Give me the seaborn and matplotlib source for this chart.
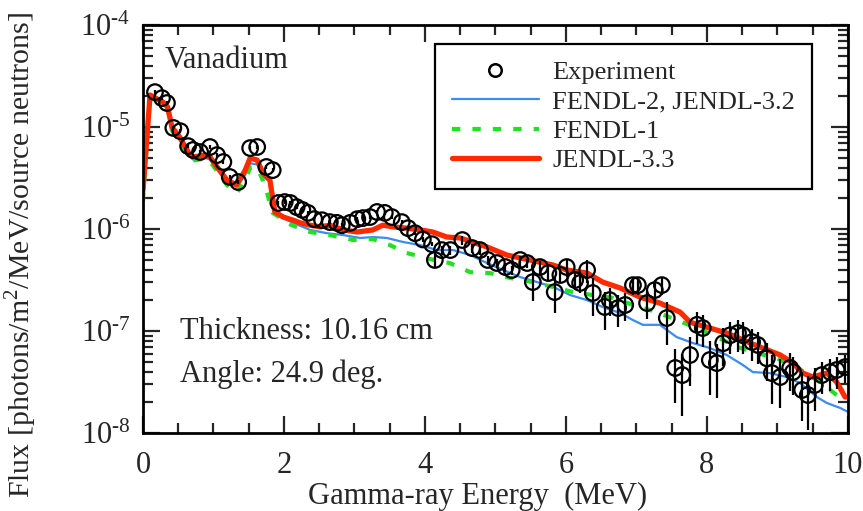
import numpy as np
import matplotlib
matplotlib.use("Agg")
import matplotlib.pyplot as plt
import seaborn as sns
from matplotlib.lines import Line2D
from matplotlib.ticker import LogLocator, MultipleLocator, FuncFormatter

# experiment (energy in MeV, flux, relative error)
exp_e = [0.17, 0.27, 0.34, 0.43, 0.53, 0.64, 0.71, 0.81, 0.95, 1.05, 1.14, 1.23, 1.35,
         1.52, 1.62, 1.75, 1.84, 1.92, 2.01, 2.09, 2.18, 2.26, 2.34, 2.43, 2.54, 2.65,
         2.75, 2.82, 2.94, 3.04, 3.12, 3.22, 3.32, 3.43, 3.53, 3.67, 3.76, 3.86, 3.97,
         4.10, 4.14, 4.24, 4.36, 4.53, 4.67, 4.78, 4.89, 5.02, 5.14, 5.23, 5.35, 5.45,
         5.53, 5.63, 5.75, 5.84, 5.92, 6.01, 6.13, 6.20, 6.30, 6.38, 6.55, 6.62, 6.74,
         6.84, 6.95, 7.02, 7.15, 7.26, 7.36, 7.43, 7.55, 7.65, 7.76, 7.86, 7.94, 8.04,
         8.14, 8.23, 8.33, 8.44, 8.51, 8.64, 8.72, 8.85, 8.92, 9.04, 9.18, 9.22, 9.35,
         9.43, 9.53, 9.63, 9.75, 9.84, 9.96]
exp_flux = [2.20e-5, 1.92e-5, 1.72e-5, 9.8e-6, 9.1e-6, 6.5e-6, 5.96e-6, 5.69e-6, 6.37e-6,
            5.31e-6, 4.54e-6, 3.24e-6, 2.89e-6, 6.22e-6, 6.37e-6, 4.06e-6, 3.78e-6,
            1.80e-6, 1.84e-6, 1.80e-6, 1.64e-6, 1.54e-6, 1.44e-6, 1.25e-6, 1.22e-6,
            1.17e-6, 1.15e-6, 1.09e-6, 1.15e-6, 1.25e-6, 1.28e-6, 1.31e-6, 1.47e-6,
            1.44e-6, 1.31e-6, 1.17e-6, 1.02e-6, 9.1e-7, 7.9e-7, 7.1e-7, 4.97e-7, 6.22e-7,
            6.22e-7, 7.8e-7, 6.5e-7, 6.22e-7, 4.97e-7, 4.64e-7, 4.24e-7, 3.96e-7, 4.97e-7,
            4.64e-7, 3.02e-7, 4.24e-7, 3.70e-7, 2.41e-7, 3.54e-7, 4.24e-7, 3.16e-7,
            2.96e-7, 3.96e-7, 2.36e-7, 1.72e-7, 2.01e-7, 1.68e-7, 1.80e-7, 2.82e-7,
            2.82e-7, 1.88e-7, 2.52e-7, 2.82e-7, 1.34e-7, 4.34e-8, 3.70e-8, 5.82e-8,
            1.15e-7, 1.07e-7, 5.2e-8, 4.85e-8, 7.6e-8, 9.1e-8, 9.55e-8, 9.1e-8, 7.8e-8,
            7.3e-8, 5.4e-8, 3.87e-8, 3.54e-8, 4.34e-8, 3.96e-8, 2.64e-8, 2.36e-8, 2.96e-8,
            3.70e-8, 3.96e-8, 4.15e-8, 4.43e-8]
exp_rel = [0.05] * 40 + [0.15, 0.1, 0.1, 0.1, 0.1, 0.1, 0.1, 0.1, 0.1, 0.1, 0.1, 0.1,
           0.35, 0.15, 0.15, 0.38, 0.15, 0.2, 0.2, 0.2, 0.25, 0.4, 0.4, 0.3, 0.35, 0.3,
           0.2, 0.2, 0.3, 0.25, 0.2, 0.45, 0.55, 0.6, 0.5, 0.35, 0.35, 0.55, 0.55, 0.4,
           0.35, 0.35, 0.35, 0.35, 0.35, 0.4, 0.5, 0.5, 0.4, 0.4, 0.5, 0.55, 0.45, 0.35,
           0.35, 0.35, 0.3]

# JENDL-3.3
j33_e = [0.0, 0.10, 0.28, 0.35, 0.41, 0.52, 0.64, 0.71, 0.88, 0.95, 1.05, 1.19, 1.33,
         1.45, 1.52, 1.62, 1.70, 1.80, 1.87, 1.99, 2.13, 2.23, 2.37, 2.51, 2.65, 2.84,
         3.04, 3.26, 3.40, 3.55, 3.74, 3.93, 4.11, 4.31, 4.50, 4.88, 5.16, 5.49, 5.82,
         6.01, 6.30, 6.52, 6.77, 7.05, 7.33, 7.62, 7.76, 8.04, 8.28, 8.51, 8.75, 9.04,
         9.22, 9.36, 9.50, 9.70, 9.84, 9.96]
j33_flux = [2.4e-6, 2.06e-5, 1.76e-5, 1.57e-5, 1.0e-5, 7.97e-6, 5.69e-6, 5.08e-6, 5.31e-6,
            5.08e-6, 4.06e-6, 3.02e-6, 2.70e-6, 3.78e-6, 4.97e-6, 4.74e-6, 3.54e-6,
            3.02e-6, 1.47e-6, 1.31e-6, 1.22e-6, 1.15e-6, 1.09e-6, 1.05e-6, 1.09e-6,
            9.8e-7, 9.35e-7, 9.8e-7, 1.09e-6, 1.05e-6, 1.02e-6, 9.8e-7, 9.35e-7, 8.35e-7,
            8.17e-7, 6.67e-7, 5.56e-7, 4.97e-7, 4.43e-7, 3.96e-7, 3.70e-7, 3.02e-7,
            2.64e-7, 2.15e-7, 1.88e-7, 1.53e-7, 1.22e-7, 1.07e-7, 9.55e-8, 8.17e-8,
            6.97e-8, 5.82e-8, 4.85e-8, 3.87e-8, 3.54e-8, 3.87e-8, 3.16e-8, 2.25e-8]

# FENDL-2, JENDL-3.2
f2_e = [0.0, 0.10, 0.28, 0.35, 0.41, 0.52, 0.64, 0.71, 0.88, 0.95, 1.05, 1.19, 1.33,
        1.45, 1.52, 1.62, 1.70, 1.80, 1.87, 2.13, 2.37, 2.61, 2.84, 3.08, 3.26, 3.46,
        3.69, 3.93, 4.17, 4.40, 4.64, 4.88, 5.11, 5.35, 5.59, 5.82, 6.06, 6.30, 6.52,
        6.77, 6.95, 7.09, 7.33, 7.57, 7.80, 8.04, 8.28, 8.51, 8.65, 8.89, 9.13, 9.32,
        9.56, 9.70, 9.89, 10.0]
f2_flux = [2.2e-6, 2.0e-5, 1.7e-5, 1.5e-5, 9.5e-6, 7.5e-6, 5.3e-6, 4.8e-6, 5.0e-6, 4.8e-6,
           3.9e-6, 2.9e-6, 2.6e-6, 3.4e-6, 4.4e-6, 4.3e-6, 3.3e-6, 2.9e-6, 1.4e-6,
           1.15e-6, 9.8e-7, 9.1e-7, 8.73e-7, 8.17e-7, 8.35e-7, 8.17e-7, 7.46e-7, 6.97e-7,
           6.22e-7, 6.22e-7, 5.56e-7, 4.64e-7, 3.96e-7, 3.38e-7, 3.02e-7, 2.70e-7,
           2.25e-7, 2.01e-7, 1.72e-7, 1.50e-7, 1.28e-7, 1.15e-7, 1.15e-7, 8.73e-8,
           7.62e-8, 6.81e-8, 5.82e-8, 4.64e-8, 3.96e-8, 3.87e-8, 3.54e-8, 3.09e-8,
           2.25e-8, 1.97e-8, 1.76e-8, 1.61e-8]

# FENDL-1
f1_e = [0.0, 0.10, 0.28, 0.35, 0.41, 0.52, 0.64, 0.71, 0.88, 0.95, 1.05, 1.19, 1.33,
        1.45, 1.52, 1.62, 1.70, 1.76, 1.84, 2.10, 2.37, 2.65, 2.98, 3.26, 3.50, 3.74,
        4.07, 4.35, 4.64, 4.92, 5.21, 5.53, 5.82, 6.10, 6.38, 6.67, 6.95, 7.29, 7.57,
        7.86, 8.14, 8.43, 8.71, 8.99, 9.28, 9.56, 9.84, 9.96]
f1_flux = [1.9e-6, 1.95e-5, 1.7e-5, 1.5e-5, 9.3e-6, 7.3e-6, 5.2e-6, 4.7e-6, 4.9e-6, 4.6e-6,
           3.7e-6, 2.7e-6, 2.25e-6, 3.0e-6, 4.0e-6, 4.0e-6, 3.0e-6, 2.25e-6, 1.44e-6,
           1.1e-6, 9.35e-7, 8.73e-7, 7.8e-7, 7.97e-7, 6.97e-7, 5.82e-7, 5.08e-7, 4.64e-7,
           3.78e-7, 3.70e-7, 3.31e-7, 3.02e-7, 2.70e-7, 2.41e-7, 2.25e-7, 2.11e-7,
           1.80e-7, 1.53e-7, 1.28e-7, 1.07e-7, 8.73e-8, 6.97e-8, 6.08e-8, 5.43e-8,
           4.34e-8, 3.31e-8, 2.36e-8, 2.11e-8]

sns.set_style("ticks")
plt.rcParams['font.family'] = ['Liberation Serif', 'DejaVu Serif']
plt.rcParams['mathtext.fontset'] = 'custom'
plt.rcParams['mathtext.rm'] = 'Liberation Serif'

fig = plt.figure(figsize=(8.63, 5.11), dpi=100)
ax = fig.add_axes([0.1657, 0.1526, 0.8169, 0.7984])

blue, green, red = "#3b8bf5", "#22e022", "#ff2a00"

sns.lineplot(x=f2_e, y=f2_flux, ax=ax, color=blue, lw=1.6, estimator=None, sort=False)
l_f1 = sns.lineplot(x=f1_e, y=f1_flux, ax=ax, color=green, lw=3.0, estimator=None,
                    sort=False).lines[-1]
l_f1.set_dashes((2, 2.9))
sns.lineplot(x=j33_e, y=j33_flux, ax=ax, color=red, lw=3.8, estimator=None, sort=False)

exp_flux_a = np.array(exp_flux)
err = exp_flux_a * np.array(exp_rel)
ax.errorbar(exp_e, exp_flux_a, yerr=err, fmt='none', ecolor='black', elinewidth=1.6,
            capsize=0, zorder=4)
sns.scatterplot(x=exp_e, y=exp_flux, ax=ax, marker='o', s=125, facecolors='none',
                edgecolor='black', linewidth=1.6, zorder=5)

ax.set_yscale('log')
ax.set_xlim(0, 10)
ax.set_ylim(1e-8, 1e-4)
ax.xaxis.set_major_locator(MultipleLocator(2))
ax.xaxis.set_minor_locator(MultipleLocator(0.5))
ax.yaxis.set_major_locator(LogLocator(base=10, numticks=10))
ax.yaxis.set_minor_locator(LogLocator(base=10, subs=np.arange(2, 10), numticks=10))
ax.yaxis.set_major_formatter(FuncFormatter(
    lambda v, p: r'$\mathregular{10^{\text{-}%d}}$' % round(-np.log10(v))))
ax.tick_params(which='both', direction='in', top=True, right=True, width=1.6,
               labelsize=22, pad=9)
ax.tick_params(axis='x', pad=13)
ax.tick_params(which='major', length=12)
ax.tick_params(which='minor', length=7)
for s in ax.spines.values():
    s.set_linewidth(2)
    s.set_color('black')

ax.set_xlabel("Gamma-ray Energy  (MeV)", fontsize=22)
ax.xaxis.set_label_coords(0.475, -0.12)
ax.set_ylabel("Flux [photons/m$^\\mathregular{2}$/MeV/source neutrons]", fontsize=21.5)
ax.yaxis.set_label_coords(-0.147, 0.436)

ax.text(0.03, 0.912, "Vanadium", transform=ax.transAxes, fontsize=22, va='center')
ax.text(0.052, 0.25, "Thickness: 10.16 cm", transform=ax.transAxes, fontsize=22,
        va='center')
ax.text(0.052, 0.145, "Angle: 24.9 deg.", transform=ax.transAxes, fontsize=22,
        va='center')

handles = [
    Line2D([], [], ls='none', marker='o', mfc='none', mec='black', mew=1.8, ms=9),
    Line2D([], [], color=blue, lw=1.6),
    Line2D([], [], color=green, lw=3.0, dashes=(2, 2.9)),
    Line2D([], [], color=red, lw=3.8),
]
labels = ["Experiment", "FENDL-2, JENDL-3.2", "FENDL-1", "JENDL-3.3"]
leg = ax.legend(handles, labels, loc='upper right', bbox_to_anchor=(0.949, 0.953),
                borderaxespad=0, fontsize=19, frameon=True, fancybox=False,
                edgecolor='black', framealpha=1, handlelength=3.3, labelspacing=0.25,
                borderpad=0.65, handletextpad=0.5, handleheight=0.6)
leg.get_frame().set_linewidth(1.6)

fig.savefig("out.png", dpi=100)
